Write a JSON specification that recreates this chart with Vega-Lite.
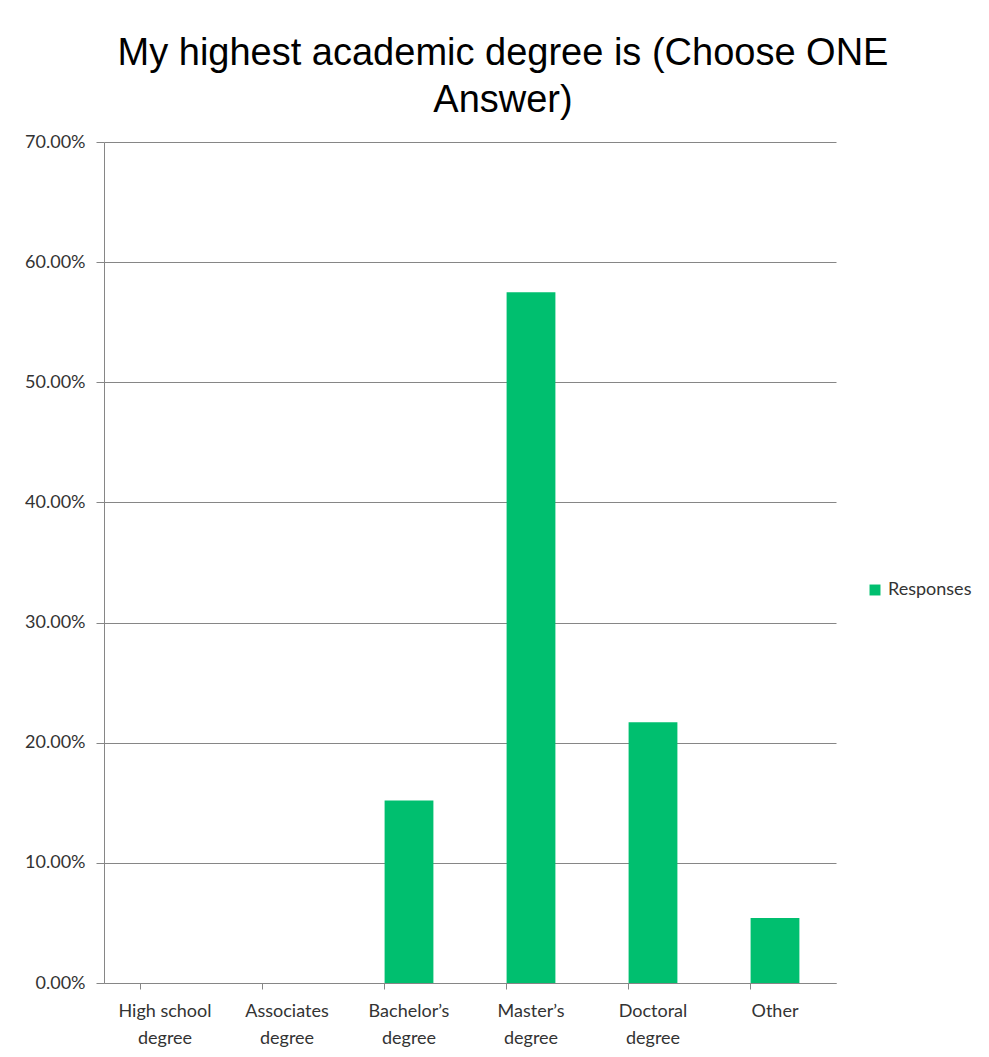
{
  "$schema": "https://vega.github.io/schema/vega-lite/v6.json",
  "autosize": {"type": "none"},
  "padding": {"left": 104, "top": 142, "right": 153, "bottom": 74},
  "width": 732,
  "height": 841,
  "background": "white",
  "title": {
    "text": ["My highest academic degree is (Choose ONE", "Answer)"],
    "font": "Liberation Sans",
    "fontSize": 38,
    "fontWeight": "normal",
    "color": "#000000",
    "lineHeight": 47,
    "anchor": "middle",
    "dx": 33,
    "offset": 13
  },
  "data": {
    "values": [
      {"category": "High school degree", "value": 0, "series": "Responses"},
      {"category": "Associates degree", "value": 0, "series": "Responses"},
      {"category": "Bachelor’s degree", "value": 0.152, "series": "Responses"},
      {"category": "Master’s degree", "value": 0.575, "series": "Responses"},
      {"category": "Doctoral degree", "value": 0.217, "series": "Responses"},
      {"category": "Other", "value": 0.054, "series": "Responses"}
    ]
  },
  "mark": {"type": "bar"},
  "encoding": {
    "x": {
      "field": "category",
      "type": "nominal",
      "sort": null,
      "scale": {"paddingInner": 0.6, "paddingOuter": 0.3},
      "axis": {
        "title": null,
        "labelAngle": 0,
        "labelExpr": "split(replace(datum.value, ' degree', '|degree'), '|')",
        "labelFont": "Lato",
        "labelFontSize": 18,
        "labelColor": "#333333",
        "labelLineHeight": 27,
        "labelBaseline": "top",
        "labelPadding": 13,
        "bandPosition": 0,
        "ticks": true,
        "tickSize": 6,
        "tickColor": "#868686",
        "domainColor": "#868686",
        "grid": false
      }
    },
    "y": {
      "field": "value",
      "type": "quantitative",
      "scale": {"domain": [0, 0.7], "nice": false},
      "axis": {
        "title": null,
        "format": ".2%",
        "values": [0, 0.1, 0.2, 0.3, 0.4, 0.5, 0.6, 0.7],
        "labelFont": "Lato",
        "labelFontSize": 18,
        "labelColor": "#333333",
        "labelPadding": 11,
        "tickSize": 8,
        "tickColor": "#868686",
        "domainColor": "#868686",
        "grid": true,
        "gridColor": "#868686",
        "gridWidth": 1
      }
    },
    "color": {
      "field": "series",
      "type": "nominal",
      "scale": {"range": ["#00BF6F"]},
      "legend": {
        "title": null,
        "orient": "none",
        "legendX": 762,
        "legendY": 439,
        "symbolType": "square",
        "symbolSize": 120,
        "labelFont": "Lato",
        "labelFontSize": 18,
        "labelColor": "#333333"
      }
    }
  },
  "config": {
    "view": {"stroke": null}
  }
}
